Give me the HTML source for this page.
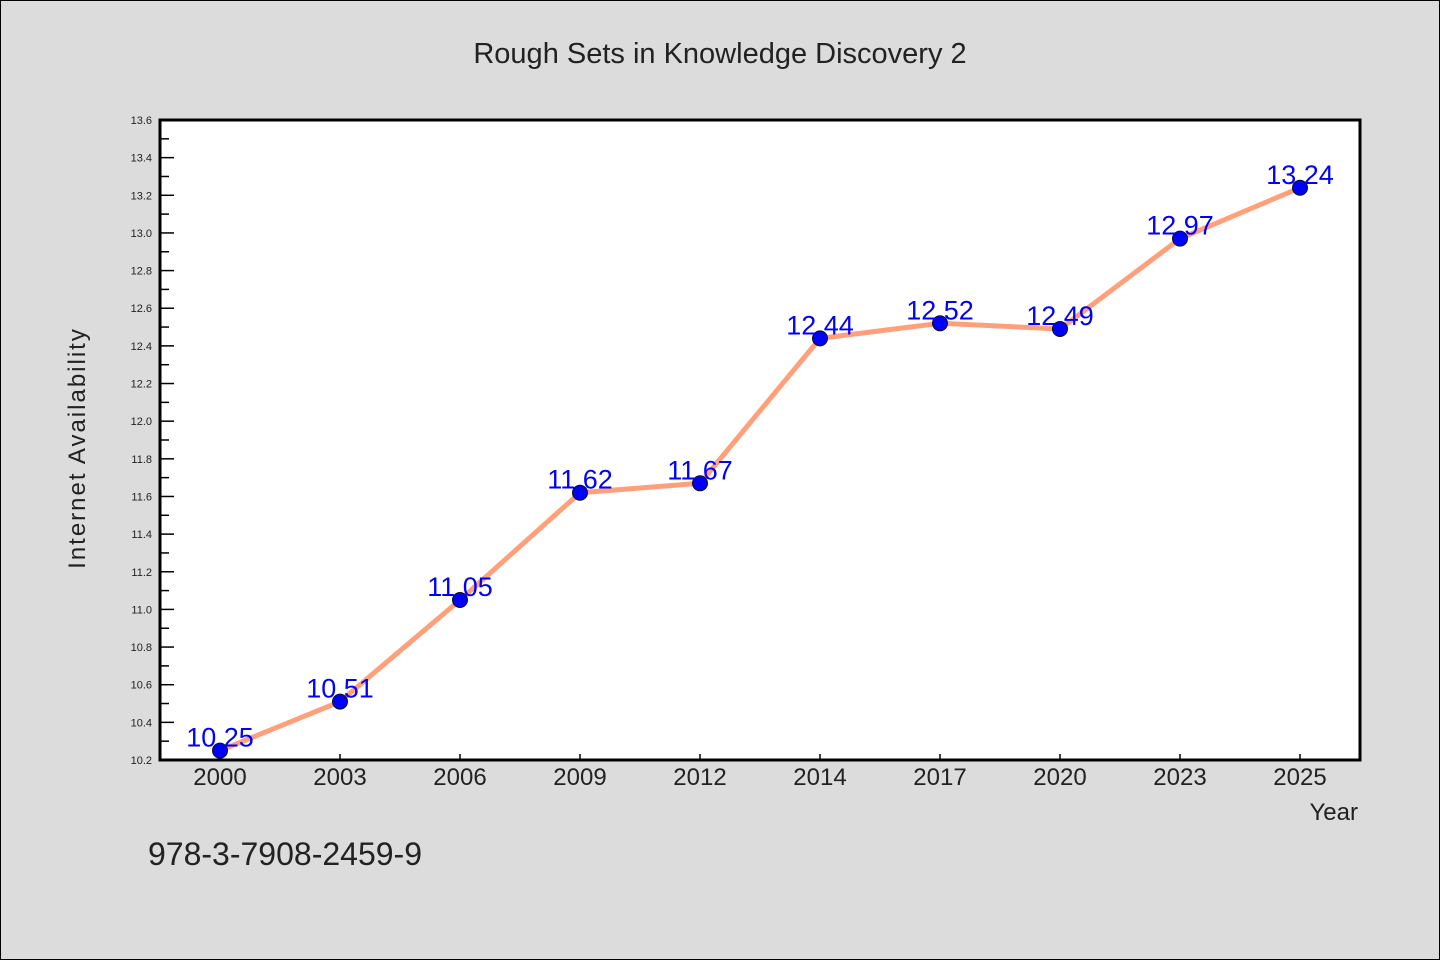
<!DOCTYPE html>
<html><head><meta charset="utf-8"><style>
html,body{margin:0;padding:0;background:#dcdcdc;}
svg{display:block;font-family:"WenQuanYi Zen Hei","Liberation Sans",sans-serif;}
</style></head><body>
<svg id="chart" width="1440" height="960">
<rect x="0.5" y="0.5" width="1439" height="959" fill="#dcdcdc" stroke="#000"/>
<text x="720" y="63" text-anchor="middle" font-size="29" fill="#222">Rough Sets in Knowledge Discovery 2</text>
<rect x="160" y="120" width="1200" height="640" fill="#fff"/>
<g id="yaxis"></g>
<g id="xaxis"></g>
<g id="series"></g>
<rect x="160" y="120" width="1200" height="640" fill="none" stroke="#000" stroke-width="3"/>
<text x="85" y="448" text-anchor="middle" font-size="24" fill="#222" transform="rotate(-90 85 448)" letter-spacing="2">Internet Availability</text>
<text x="1358" y="820" text-anchor="end" font-size="24" fill="#222">Year</text>
<text x="148" y="865" font-size="32" fill="#222">978-3-7908-2459-9</text>
</svg>
<script>
const categories=["2000","2003","2006","2009","2012","2014","2017","2020","2023","2025"];
const values=[10.25,10.51,11.05,11.62,11.67,12.44,12.52,12.49,12.97,13.24];
const valueLabels=["10.25","10.51","11.05","11.62","11.67","12.44","12.52","12.49","12.97","13.24"];
const yTicks=["10.2","10.4","10.6","10.8","11.0","11.2","11.4","11.6","11.8","12.0","12.2","12.4","12.6","12.8","13.0","13.2","13.4","13.6"];
const NS="http://www.w3.org/2000/svg";
const L=160,R=1360,T=120,B=760,yMin=10.2,yMax=13.6;
const band=(R-L)/categories.length;
const xs=i=>L+band*(i+0.5);
const ys=v=>B-(v-yMin)/(yMax-yMin)*(B-T);
function mk(tag,attrs,parent){const e=document.createElementNS(NS,tag);for(const k in attrs)e.setAttribute(k,attrs[k]);parent.appendChild(e);return e;}
const ya=document.getElementById('yaxis'),xa=document.getElementById('xaxis'),sg=document.getElementById('series');
yTicks.forEach((t,i)=>{
  const y=ys(parseFloat(t));
  const ln=mk('line',{x1:L,x2:L+14,y1:y,y2:y,stroke:'#000','stroke-width':1.5},ya);
  
  
  const tx=mk('text',{x:152,y:y+4,'text-anchor':'end','font-size':11,fill:'#222'},ya);
  tx.textContent=t;
  
  
  if(i<yTicks.length-1){
    const ym=ys(parseFloat(t)+0.1);
    const m=mk('line',{x1:L,x2:L+9,y1:ym,y2:ym,stroke:'#000','stroke-width':1.5},ya);
    
    
  }
});
categories.forEach((c,i)=>{
  const x=xs(i);
  const ln=mk('line',{x1:x,x2:x,y1:B,y2:B-6,stroke:'#000','stroke-width':1.5},xa);
  
  
  const tx=mk('text',{x:x,y:B+25,'text-anchor':'middle','font-size':24,fill:'#222'},xa);
  tx.textContent=c;
  
  
});
const pl=mk('polyline',{points:values.map((v,i)=>xs(i)+','+ys(v)).join(' '),fill:'none',stroke:'#ffa07a','stroke-width':5,'stroke-linejoin':'round'},sg);


values.forEach((v,i)=>{
  const c=mk('circle',{cx:xs(i),cy:ys(v),r:7.5,fill:'#0000ff',stroke:'#111','stroke-width':1},sg);
  
  
});
values.forEach((v,i)=>{
  const t=mk('text',{x:xs(i),y:ys(v)-4,'text-anchor':'middle','font-size':27,fill:'#0000ff'},sg);
  t.textContent=valueLabels[i];
  
  
});
</script>
</body></html>
